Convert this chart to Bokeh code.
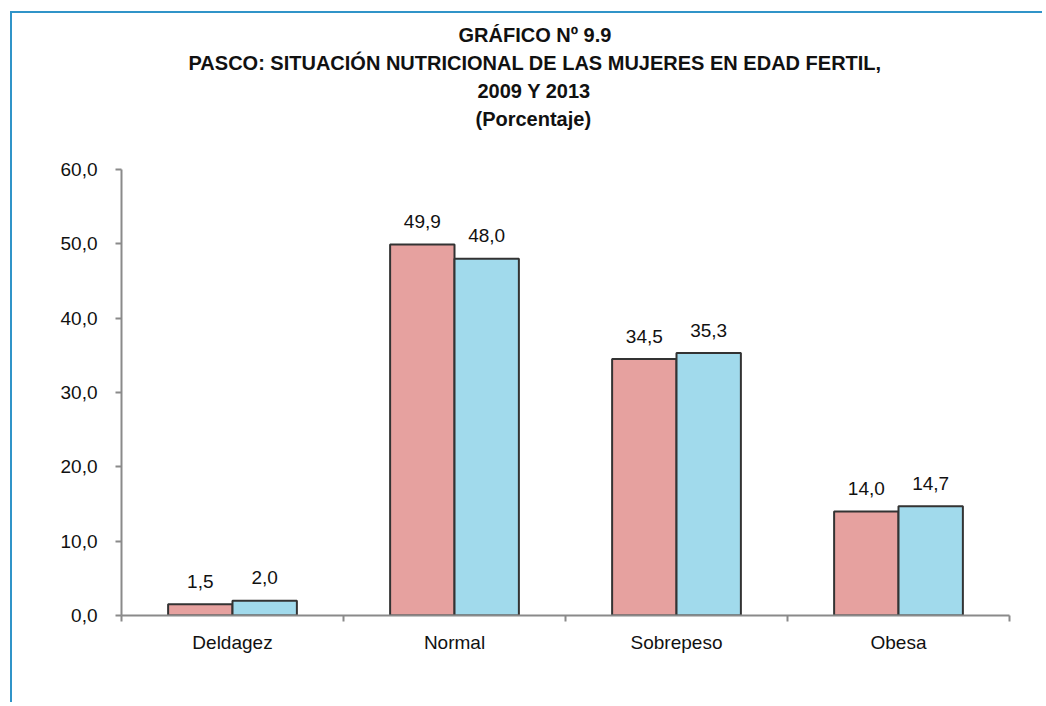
from bokeh.plotting import figure
from bokeh.models import Range1d, FixedTicker, Title, ColumnDataSource, LabelSet
from bokeh.embed import file_html
from bokeh.resources import INLINE
from bokeh.core.properties import value

# ---- data ----
categories = ["Deldagez", "Normal", "Sobrepeso", "Obesa"]
values_2009 = [1.5, 49.9, 34.5, 14.0]
values_2013 = [2.0, 48.0, 35.3, 14.7]
y_ticks = [0, 10, 20, 30, 40, 50, 60]
y_tick_labels = ["0,0", "10,0", "20,0", "30,0", "40,0", "50,0", "60,0"]
title_lines = [
    "GRÁFICO Nº 9.9",
    "PASCO: SITUACIÓN NUTRICIONAL DE LAS MUJERES EN EDAD FERTIL,",
    "2009 Y 2013",
    "(Porcentaje)",
]
# horizontal offsets (px from plot-area left) that centre each title line
title_offsets = [337, 67, 356, 354]

FONT = "'Liberation Sans', Arial, sans-serif"
PINK = "#E6A19F"
BLUE = "#A1DAEC"
EDGE = "#333333"
AXIS = "#8A8A8A"
FRAME = "#3094C8"

n = len(categories)
centers = [i + 0.5 for i in range(n)]
bar_w = 0.29

p = figure(width=1032, height=691, output_backend="svg", toolbar_location=None,
           x_range=Range1d(0, n), y_range=Range1d(0, 60),
           min_border_left=109, min_border_right=35, min_border_bottom=89, min_border_top=156)
# blue page frame (left and top edges)
p.styles = {"border-left": f"2px solid {FRAME}", "border-top": f"2px solid {FRAME}",
            "margin-left": "10px", "margin-top": "11px"}

# spacer between plot area and the title block
p.add_layout(Title(text=" ", text_font_size="20px", standoff=14), "above")
for line, off in zip(reversed(title_lines), reversed(title_offsets)):
    p.add_layout(Title(text=line, align="left", offset=off, text_font=FONT,
                       text_font_size="20px", text_font_style="bold", text_color="#111111",
                       standoff=4), "above")

src = ColumnDataSource(dict(
    x1=[c - bar_w / 2 for c in centers], x2=[c + bar_w / 2 for c in centers],
    v1=values_2009, v2=values_2013,
    l1=[f"{v:.1f}".replace(".", ",") for v in values_2009],
    l2=[f"{v:.1f}".replace(".", ",") for v in values_2013],
))
p.vbar(x="x1", top="v1", width=bar_w, source=src, fill_color=PINK, line_color=EDGE, line_width=2)
p.vbar(x="x2", top="v2", width=bar_w, source=src, fill_color=BLUE, line_color=EDGE, line_width=2)

for xc, yc, tc in (("x1", "v1", "l1"), ("x2", "v2", "l2")):
    p.add_layout(LabelSet(x=xc, y=yc, text=tc, source=src, y_offset=23,
                          text_align="center", text_baseline="middle",
                          text_font=value(FONT), text_font_size="19px", text_color="#111111"))

p.grid.visible = False
p.outline_line_color = None
p.background_fill_color = "white"
p.border_fill_color = "white"

xa = p.xaxis[0]
xa.ticker = FixedTicker(ticks=centers, minor_ticks=list(range(n + 1)))
xa.major_label_overrides = {c: lab for c, lab in zip(centers, categories)}
xa.major_tick_line_color = None
xa.minor_tick_out = 6
xa.minor_tick_in = 0
xa.minor_tick_line_color = AXIS
xa.minor_tick_line_width = 2
xa.axis_line_color = AXIS
xa.axis_line_width = 2
xa.major_label_text_font = FONT
xa.major_label_text_font_size = "19px"
xa.major_label_text_color = "#111111"
xa.major_label_standoff = 10

ya = p.yaxis[0]
ya.ticker = FixedTicker(ticks=y_ticks, minor_ticks=[])
ya.major_label_overrides = {t: lab for t, lab in zip(y_ticks, y_tick_labels)}
ya.major_tick_out = 6
ya.major_tick_in = 0
ya.major_tick_line_color = AXIS
ya.major_tick_line_width = 2
ya.axis_line_color = AXIS
ya.axis_line_width = 2
ya.major_label_text_font = FONT
ya.major_label_text_font_size = "19px"
ya.major_label_text_color = "#111111"
ya.major_label_standoff = 18

open("out.html", "w").write(file_html(p, INLINE))
